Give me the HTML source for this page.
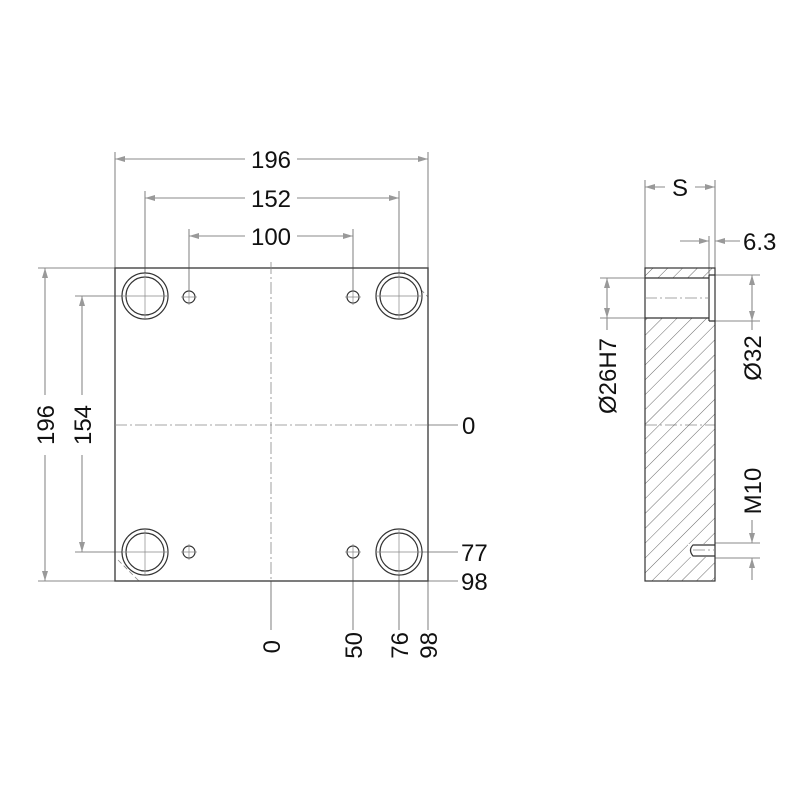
<!DOCTYPE html>
<html><head><style>body{margin:0;background:#fff}svg{display:block}</style></head><body>
<svg width="800" height="800" viewBox="0 0 800 800" xmlns="http://www.w3.org/2000/svg" font-family="Liberation Sans, sans-serif">
<defs>
<marker id="a" viewBox="0 0 10 6" refX="10" refY="3" markerWidth="10" markerHeight="6" orient="auto-start-reverse" markerUnits="userSpaceOnUse"><path d="M0,0L10,3L0,6z" fill="#999"/></marker>
<pattern id="h" width="10.5" height="10.5" patternUnits="userSpaceOnUse" patternTransform="rotate(45)"><line x1="0" y1="0" x2="0" y2="10.5" stroke="#444" stroke-width="0.8"/></pattern>
<clipPath id="c"><path d="M645,268H715V581H645Z"/></clipPath>
</defs>
<g stroke="#8a8a8a" stroke-width="1.1" fill="none">
<path d="M115,268V152M428,268V152M145,296V191M399,296V191M189,297V229M353,297V229"/>
<path d="M115,268H38M115,581H38M145,296H75M145,552H75"/>
<path d="M399,552H458M428,581H458M271,581V630M353,552V630M399,552V630M428,581V630M428,425H458"/>
<path d="M115,159H245M297,159H428" marker-start="url(#a)" marker-end="url(#a)"/>
<path d="M145,198H245M297,198H399" marker-start="url(#a)" marker-end="url(#a)"/>
<path d="M189,236H245M297,236H353" marker-start="url(#a)" marker-end="url(#a)"/>
<path d="M45,268V395M45,455V581" marker-start="url(#a)" marker-end="url(#a)"/>
<path d="M82,296V395M82,455V552" marker-start="url(#a)" marker-end="url(#a)"/>
<path d="M645,268V180M715,268V180M709,275V236"/>
<path d="M645,187H665M695,187H715" marker-start="url(#a)" marker-end="url(#a)"/>
<path d="M680,241H709" marker-end="url(#a)"/>
<path d="M715,241H740" marker-start="url(#a)"/>
<path d="M645,278H600M645,318H600M715,275H760M715,321H760M715,543H760M715,558H760"/>
<path d="M607,278V318" marker-start="url(#a)" marker-end="url(#a)"/>
<path d="M752,275V321" marker-start="url(#a)" marker-end="url(#a)"/>
<path d="M752,520V543" marker-end="url(#a)"/>
<path d="M752,580V558" marker-end="url(#a)"/>
<path d="M607,318V330M752,321V330"/>
</g>
<g stroke="#888" stroke-width="0.8" stroke-dasharray="5,3" fill="none">
<path d="M404,272L428,297M118,560L140,582"/>
</g>
<rect x="115" y="268" width="313" height="313" fill="none" stroke="#444" stroke-width="1.4"/>
<g stroke="#888" stroke-width="0.8" stroke-dasharray="12,3,2,3" fill="none">
<path d="M271,262V581M115,425H428M645,425H715"/>
</g>
<g stroke="#333" stroke-width="1.2" fill="#fff">
<circle cx="145" cy="296" r="23"/><circle cx="145" cy="296" r="19"/>
<circle cx="399" cy="296" r="23"/><circle cx="399" cy="296" r="19"/>
<circle cx="145" cy="552" r="23"/><circle cx="145" cy="552" r="19"/>
<circle cx="399" cy="552" r="23"/><circle cx="399" cy="552" r="19"/>
<circle cx="189" cy="297" r="6"/><circle cx="353" cy="297" r="6"/>
<circle cx="189" cy="552" r="6"/><circle cx="353" cy="552" r="6"/>
</g>
<g stroke="#888" stroke-width="0.7">
<path d="M145,273V319M122,296H168M399,273V319M376,296H422M145,529V575M122,552H168M399,529V575M376,552H422M189,289V305M181,297H197M353,289V305M345,297H361M189,544V560M181,552H197M353,544V560M345,552H361"/>
</g>
<g clip-path="url(#c)">
<rect x="645" y="268" width="70" height="313" fill="url(#h)"/>
<rect x="645" y="278" width="70" height="40" fill="#fff"/>
<rect x="709" y="275" width="6" height="46" fill="#fff"/>
<rect x="688" y="544" width="27" height="13" fill="#fff"/>
</g>
<g stroke="#333" stroke-width="1.2" fill="none">
<rect x="645" y="268" width="70" height="313"/>
<path d="M645,278H709M645,318H709M709,275V321M709,275H715M709,321H715"/>
<path d="M715,545H693Q688,550 693,556H715"/>
</g>
<path d="M645,298H709M693,550H715" stroke="#888" stroke-width="0.7" stroke-dasharray="12,3,2,3"/>
<g font-size="24" fill="#111">
<text x="271" y="168" text-anchor="middle">196</text>
<text x="271" y="207" text-anchor="middle">152</text>
<text x="271" y="245" text-anchor="middle">100</text>
<text x="462" y="434">0</text>
<text x="461" y="561">77</text>
<text x="461" y="590">98</text>
<text x="680" y="196" text-anchor="middle">S</text>
<text x="743" y="250">6.3</text>
<text transform="translate(54,425) rotate(-90)" text-anchor="middle">196</text>
<text transform="translate(91,425) rotate(-90)" text-anchor="middle">154</text>
<text transform="translate(280,640) rotate(-90)" text-anchor="end">0</text>
<text transform="translate(362,632) rotate(-90)" text-anchor="end">50</text>
<text transform="translate(408,632) rotate(-90)" text-anchor="end">76</text>
<text transform="translate(437,632) rotate(-90)" text-anchor="end">98</text>
<text transform="translate(616,376) rotate(-90)" text-anchor="middle">Ø26H7</text>
<text transform="translate(761,358) rotate(-90)" text-anchor="middle">Ø32</text>
<text transform="translate(761,491) rotate(-90)" text-anchor="middle">M10</text>
</g>
</svg>
</body></html>
